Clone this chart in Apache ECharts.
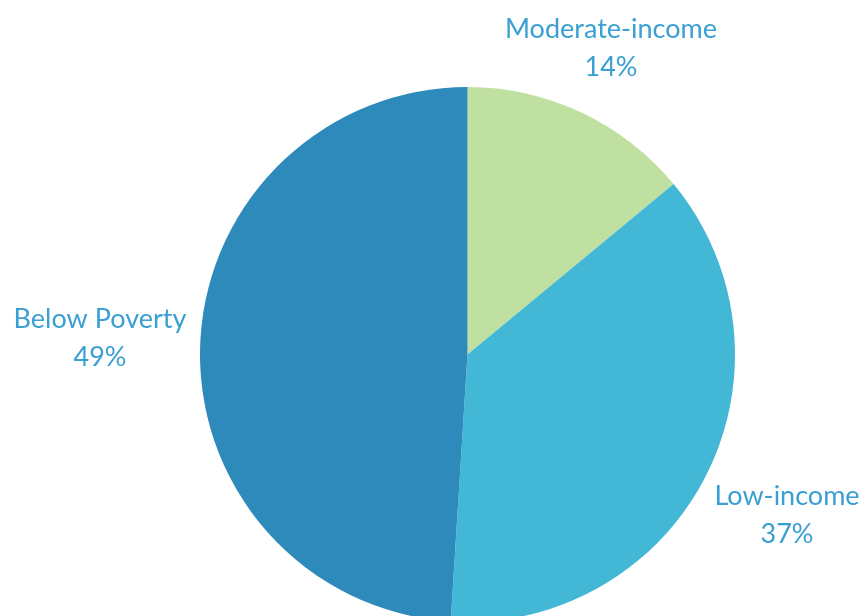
<!DOCTYPE html>
<html><head><meta charset="utf-8">
<script src="https://cdn.jsdelivr.net/npm/echarts@6/dist/echarts.min.js"></script>
<style>html,body{margin:0;padding:0;background:#fff}#c{width:866px;height:616px}</style>
</head><body><div id="c"></div>
<script>
const categories = ['Moderate-income', 'Low-income', 'Below Poverty'];
const values = [14, 37, 49];
const colors = ['#bfe0a0', '#42b7d6', '#2e8aba'];
const labelPos = [[611, 48], [787, 515], [100, 338]];

const chart = echarts.init(document.getElementById('c'));
chart.setOption({
  animation: false,
  series: [{
    type: 'pie',
    center: [467.5, 354.5],
    radius: 267.5,
    startAngle: 90,
    clockwise: true,
    data: categories.map((n, i) => ({ name: n, value: values[i], itemStyle: { color: colors[i] } })),
    label: {
      show: true,
      position: 'outside',
      formatter: p => p.name + '\n' + p.value + '%',
      color: '#3a9fd2',
      fontFamily: 'Lato',
      fontSize: 27,
      lineHeight: 38,
      align: 'center',
      overflow: 'none',
      width: 400
    },
    labelLine: { show: false },
    labelLayout: p => ({ x: labelPos[p.dataIndex][0], y: labelPos[p.dataIndex][1], align: 'center', verticalAlign: 'middle' }),
    emphasis: { disabled: true }
  }]
});
</script></body></html>
